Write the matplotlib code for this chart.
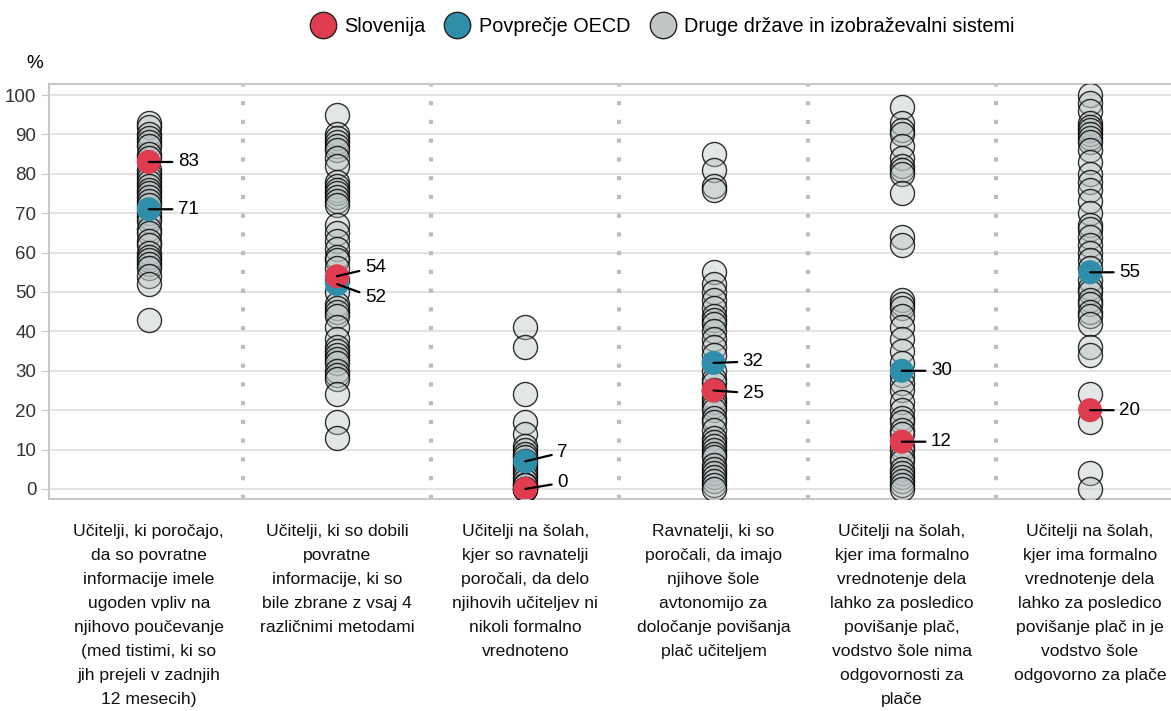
import matplotlib.pyplot as plt
import numpy as np

categories = [
    "Učitelji, ki poročajo,\nda so povratne\ninformacije imele\nugoden vpliv na\nnjihovo poučevanje\n(med tistimi, ki so\njih prejeli v zadnjih\n12 mesecih)",
    "Učitelji, ki so dobili\npovratne\ninformacije, ki so\nbile zbrane z vsaj 4\nrazličnimi metodami",
    "Učitelji na šolah,\nkjer so ravnatelji\nporočali, da delo\nnjihovih učiteljev ni\nnikoli formalno\nvrednoteno",
    "Ravnatelji, ki so\nporočali, da imajo\nnjihove šole\navtonomijo za\ndoločanje povišanja\nplač učiteljem",
    "Učitelji na šolah,\nkjer ima formalno\nvrednotenje dela\nlahko za posledico\npovišanje plač,\nvodstvo šole nima\nodgovornosti za\nplače",
    "Učitelji na šolah,\nkjer ima formalno\nvrednotenje dela\nlahko za posledico\npovišanje plač in je\nvodstvo šole\nodgovorno za plače",
]

slovenia = [83, 54, 0, 25, 12, 20]
oecd = [71, 52, 7, 32, 30, 55]

others_1 = [93, 92, 90, 89, 88, 87, 85, 84, 81, 80, 79, 78, 77, 76, 75, 74, 73,
            72, 70, 69, 68, 66, 65, 63, 62, 60, 59, 58, 57, 56, 54, 52, 43]
others_2 = [95, 90, 89, 88, 87, 86, 84, 82, 78, 77, 76, 75, 74, 73, 72, 67, 65,
            63, 61, 59, 58, 56, 53, 50, 47, 46, 45, 44, 41, 38, 36, 35, 34, 33,
            32, 30, 29, 28, 24, 17, 13]
others_3 = [41, 36, 24, 17, 14, 11, 10, 9, 8, 7, 6, 5, 4, 3, 2, 1, 1, 0, 0, 0]
others_4 = [85, 81, 77, 76, 55, 52, 50, 48, 46, 44, 43, 42, 40, 38, 36, 34, 30,
            28, 27, 25, 23, 22, 21, 20, 18, 17, 15, 13, 12, 11, 10, 9, 8, 6, 5,
            4, 3, 2, 1, 0]
others_5 = [97, 93, 91, 90, 87, 84, 82, 81, 80, 75, 64, 62, 48, 47, 46, 44, 41,
            38, 35, 32, 29, 27, 25, 22, 20, 18, 17, 15, 14, 11, 10, 8, 7, 5, 4,
            3, 2, 1, 0]
others_6 = [100, 98, 96, 93, 92, 91, 90, 89, 88, 86, 83, 80, 78, 76, 73, 70, 67,
            66, 64, 62, 60, 58, 56, 53, 51, 50, 48, 47, 45, 44, 42, 36, 34, 24,
            17, 4, 0]
others = [others_1, others_2, others_3, others_4, others_5, others_6]

# label offsets in points (dx, dy) for Slovenia / OECD labels
si_offsets = [(21, 0), (20, 6.5), (23, 4.5), (21, -2), (21, 0), (21, 0)]
oecd_offsets = [(21, 0), (20, -10), (23, 6.5), (21, 1), (21, 0), (21, 0)]

RED = "#e03c50"
TEAL = "#2f8fab"
GRID = "#dedede"
FRAME = "#c8c8c8"

plt.rcParams["font.family"] = ["Liberation Sans", "DejaVu Sans"]

fig = plt.figure(figsize=(11.71, 7.11), dpi=100)
ax = fig.add_axes([0.0418, 0.2982, 0.9582, 0.5837])

x = np.arange(len(categories))
ax.set_xlim(-0.53, 5.43)
ax.set_ylim(-2.54, 102.8)

ax.set_yticks(range(0, 101, 10))
ax.yaxis.grid(True, color=GRID, linewidth=1.2)
ax.set_axisbelow(True)
ax.tick_params(axis="y", length=6, color=FRAME, labelsize=13.5, labelcolor="#333333", pad=3)
ax.tick_params(axis="x", length=0)
ax.set_xticks(x)
ax.set_xticklabels([])

for side in ["top", "left", "bottom"]:
    ax.spines[side].set_color(FRAME)
    ax.spines[side].set_linewidth(1.5)
ax.spines["right"].set_visible(False)

# dotted separators between categories
for sep in x[:-1] + 0.5:
    ax.axvline(sep, color="#bdbdbd", linewidth=3, linestyle=(0, (1, 3.5)), zorder=1)

face = (0.72, 0.76, 0.76, 0.4)
edge = (0.0, 0.0, 0.0, 0.8)
for i, vals in enumerate(others):
    ax.scatter([x[i]] * len(vals), vals, s=300, facecolors=[face], edgecolors=[edge],
               linewidths=1, zorder=3)

ax.scatter(x, oecd, s=300, color=TEAL, edgecolors="none", zorder=4)
ax.scatter(x, slovenia, s=300, color=RED, edgecolors="none", zorder=5)

for i in range(len(categories)):
    for val, off in [(slovenia[i], si_offsets[i]), (oecd[i], oecd_offsets[i])]:
        ax.annotate(str(val), xy=(x[i], val), xytext=off, textcoords="offset points",
                    fontsize=13.5, va="center", ha="left", zorder=6,
                    arrowprops=dict(arrowstyle="-", color="black", lw=1.6,
                                    shrinkA=2, shrinkB=0))

for i, cat in enumerate(categories):
    ax.text(x[i], -9.0, cat, ha="center", va="top", fontsize=12.6,
            linespacing=1.74, color="#111111")

fig.text(0.030, 0.910, "%", fontsize=13.5, ha="center", va="center")

# legend
handles = [
    plt.Line2D([], [], marker="o", linestyle="", markersize=19, markerfacecolor=RED,
               markeredgecolor="#222222", markeredgewidth=1),
    plt.Line2D([], [], marker="o", linestyle="", markersize=19, markerfacecolor=TEAL,
               markeredgecolor="#222222", markeredgewidth=1),
    plt.Line2D([], [], marker="o", linestyle="", markersize=19, markerfacecolor="#c1c7c7",
               markeredgecolor="#222222", markeredgewidth=1),
]
fig.legend(handles, ["Slovenija", "Povprečje OECD", "Druge države in izobraževalni sistemi"],
           loc="center", bbox_to_anchor=(0.566, 0.963), ncol=3, frameon=False,
           fontsize=14.3, handletextpad=0.5, columnspacing=1.0, handlelength=1.2)

fig.savefig("out.png", dpi=100)
